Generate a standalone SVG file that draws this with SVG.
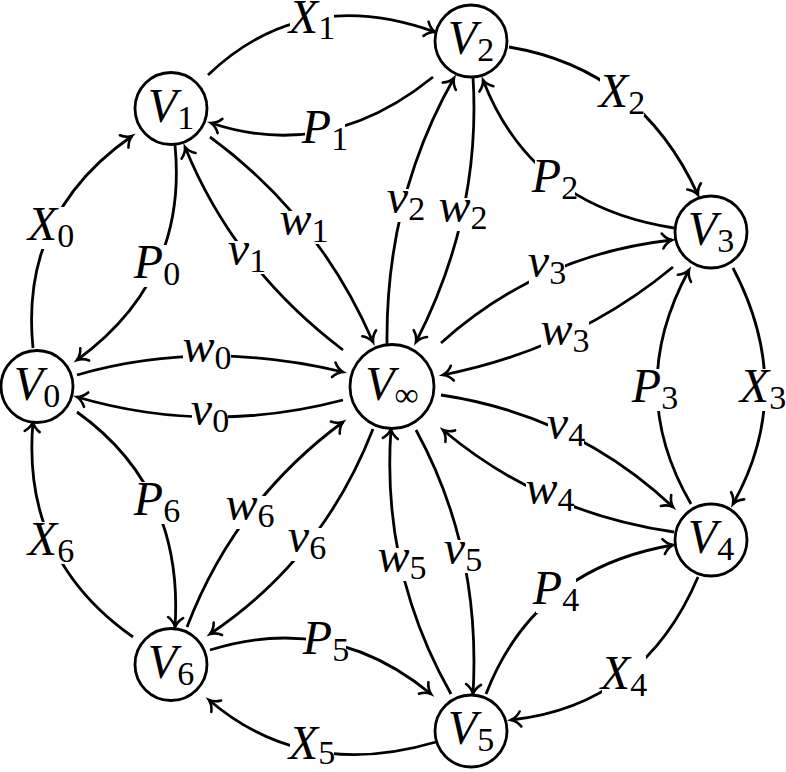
<svg xmlns="http://www.w3.org/2000/svg" width="786" height="772" viewBox="0 0 786 772">
<style>
.edge{fill:none;stroke:#000;stroke-width:2.8;marker-end:url(#to)}
.nd circle{fill:#fff;stroke:#000;stroke-width:2.8}
.lbl{font-family:"Liberation Serif","Times New Roman",serif;font-style:italic;font-size:48px;text-anchor:middle;fill:#000}
.sub{font-style:normal;font-size:34px}
.bg{fill:#fff}
</style>
<defs>
<marker id="to" markerUnits="userSpaceOnUse" orient="auto" refX="0" refY="0" markerWidth="30" markerHeight="30" viewBox="-15 -15 30 30" overflow="visible">
<path d="M-9.5,-7.5 C-6.5,-3 -2.5,-0.8 0,0 C-2.5,0.8 -6.5,3 -9.5,7.5" fill="none" stroke="#000" stroke-width="2.6" stroke-linecap="round"/>
</marker>
</defs>
<rect width="786" height="772" fill="#fff"/>
<g id="connectors">
<path class="edge" d="M33,348 Q19.5,214 132,136"/>
<path class="edge" d="M208,75 Q302.5,-15.5 435,32"/>
<path class="edge" d="M509,47 Q640.5,69 698,195"/>
<path class="edge" d="M733,268 Q797,390 733,504"/>
<path class="edge" d="M698,577 Q643.5,705.5 511,720"/>
<path class="edge" d="M436,742 Q303.5,781 209,700"/>
<path class="edge" d="M133,637 Q21,558.5 33,422"/>
<path class="edge" d="M175,145 Q188,279.5 77,360"/>
<path class="edge" d="M433,77 Q328,162 211,123"/>
<path class="edge" d="M674,228 Q531.5,206 483,80"/>
<path class="edge" d="M691,504 Q624,389 689,270"/>
<path class="edge" d="M486,694 Q534.5,568.5 673,545"/>
<path class="edge" d="M210,650 Q331.5,612 431,694"/>
<path class="edge" d="M77,412 Q184,488.5 175,627"/>
<path class="edge" d="M77,375 Q204,338.5 343,372"/>
<path class="edge" d="M343,400 Q208,435.5 77,397"/>
<path class="edge" d="M343,350 Q234,267.5 185,147"/>
<path class="edge" d="M210,137 Q318.5,216.5 373,342"/>
<path class="edge" d="M387,344 Q385.5,199 454,78"/>
<path class="edge" d="M473,77 Q481.5,214.5 416,342"/>
<path class="edge" d="M441,343 Q539.5,254.5 672,240"/>
<path class="edge" d="M673,267 Q574,349 443,375"/>
<path class="edge" d="M441,395 Q575,415 673,507"/>
<path class="edge" d="M674,532 Q541.5,513 443,430"/>
<path class="edge" d="M416,430 Q481.5,550 473,694"/>
<path class="edge" d="M451,694 Q381,570.5 391,429"/>
<path class="edge" d="M187,627 Q235,501.5 343,422"/>
<path class="edge" d="M373,429 Q322.5,558.5 210,634"/>
</g>
<g id="edge-labels">
<g><rect class="bg" x="29" y="207" width="44" height="42"/><text class="lbl" x="51" y="240">X<tspan class="sub" dy="7">0</tspan></text></g>
<g><rect class="bg" x="290" y="0" width="44" height="42"/><text class="lbl" x="312" y="33">X<tspan class="sub" dy="6">1</tspan></text></g>
<g><rect class="bg" x="600" y="74" width="44" height="42"/><text class="lbl" x="622" y="107">X<tspan class="sub" dy="7">2</tspan></text></g>
<g><rect class="bg" x="741" y="369" width="44" height="42"/><text class="lbl" x="763" y="402">X<tspan class="sub" dy="7">3</tspan></text></g>
<g><rect class="bg" x="602" y="656" width="44" height="42"/><text class="lbl" x="624" y="689">X<tspan class="sub" dy="7">4</tspan></text></g>
<g><rect class="bg" x="290" y="726" width="44" height="42"/><text class="lbl" x="312" y="759">X<tspan class="sub" dy="5">5</tspan></text></g>
<g><rect class="bg" x="29" y="522" width="44" height="42"/><text class="lbl" x="51" y="555">X<tspan class="sub" dy="7">6</tspan></text></g>
<g><rect class="bg" x="137" y="245" width="40" height="42"/><text class="lbl" x="157" y="278">P<tspan class="sub" dy="7">0</tspan></text></g>
<g><rect class="bg" x="305" y="110" width="40" height="42"/><text class="lbl" x="325" y="143">P<tspan class="sub" dy="7">1</tspan></text></g>
<g><rect class="bg" x="535" y="159" width="40" height="42"/><text class="lbl" x="555" y="192">P<tspan class="sub" dy="7">2</tspan></text></g>
<g><rect class="bg" x="635" y="369" width="40" height="42"/><text class="lbl" x="655" y="402">P<tspan class="sub" dy="7">3</tspan></text></g>
<g><rect class="bg" x="536" y="571" width="40" height="42"/><text class="lbl" x="556" y="604">P<tspan class="sub" dy="7">4</tspan></text></g>
<g><rect class="bg" x="306" y="621" width="40" height="42"/><text class="lbl" x="326" y="654">P<tspan class="sub" dy="7">5</tspan></text></g>
<g><rect class="bg" x="137" y="482" width="40" height="42"/><text class="lbl" x="157" y="515">P<tspan class="sub" dy="7">6</tspan></text></g>
<g><rect class="bg" x="192" y="401" width="36" height="33"/><text class="lbl" x="210" y="425">v<tspan class="sub" dy="7">0</tspan></text></g>
<g><rect class="bg" x="183" y="338" width="48" height="33"/><text class="lbl" x="207" y="362">w<tspan class="sub" dy="7">0</tspan></text></g>
<g><rect class="bg" x="229" y="241" width="36" height="33"/><text class="lbl" x="247" y="265">v<tspan class="sub" dy="7">1</tspan></text></g>
<g><rect class="bg" x="280" y="211" width="48" height="33"/><text class="lbl" x="304" y="235">w<tspan class="sub" dy="7">1</tspan></text></g>
<g><rect class="bg" x="388" y="189" width="36" height="33"/><text class="lbl" x="406" y="213">v<tspan class="sub" dy="7">2</tspan></text></g>
<g><rect class="bg" x="439" y="198" width="48" height="33"/><text class="lbl" x="463" y="222">w<tspan class="sub" dy="7">2</tspan></text></g>
<g><rect class="bg" x="529" y="253" width="36" height="33"/><text class="lbl" x="547" y="277">v<tspan class="sub" dy="7">3</tspan></text></g>
<g><rect class="bg" x="541" y="321" width="48" height="33"/><text class="lbl" x="565" y="345">w<tspan class="sub" dy="7">3</tspan></text></g>
<g><rect class="bg" x="548" y="415" width="36" height="33"/><text class="lbl" x="566" y="439">v<tspan class="sub" dy="7">4</tspan></text></g>
<g><rect class="bg" x="526" y="480" width="48" height="33"/><text class="lbl" x="550" y="504">w<tspan class="sub" dy="7">4</tspan></text></g>
<g><rect class="bg" x="445" y="540" width="36" height="33"/><text class="lbl" x="463" y="564">v<tspan class="sub" dy="7">5</tspan></text></g>
<g><rect class="bg" x="378" y="548" width="48" height="33"/><text class="lbl" x="402" y="572">w<tspan class="sub" dy="7">5</tspan></text></g>
<g><rect class="bg" x="289" y="528" width="36" height="33"/><text class="lbl" x="307" y="552">v<tspan class="sub" dy="7">6</tspan></text></g>
<g><rect class="bg" x="226" y="496" width="48" height="33"/><text class="lbl" x="250" y="520">w<tspan class="sub" dy="7">6</tspan></text></g>
</g>
<g id="V0" class="nd"><circle cx="37" cy="386.5" r="36"/><text class="lbl" x="37" y="399.5">V<tspan class="sub" dy="7">0</tspan></text></g>
<g id="V1" class="nd"><circle cx="171" cy="108.5" r="36"/><text class="lbl" x="171" y="121.5">V<tspan class="sub" dy="7">1</tspan></text></g>
<g id="V2" class="nd"><circle cx="471" cy="41" r="36"/><text class="lbl" x="471" y="54">V<tspan class="sub" dy="7">2</tspan></text></g>
<g id="V3" class="nd"><circle cx="711" cy="232" r="36"/><text class="lbl" x="711" y="245">V<tspan class="sub" dy="7">3</tspan></text></g>
<g id="V4" class="nd"><circle cx="711" cy="540" r="36"/><text class="lbl" x="711" y="553">V<tspan class="sub" dy="7">4</tspan></text></g>
<g id="V5" class="nd"><circle cx="471" cy="731" r="36"/><text class="lbl" x="471" y="744">V<tspan class="sub" dy="7">5</tspan></text></g>
<g id="V6" class="nd"><circle cx="171" cy="664.5" r="36"/><text class="lbl" x="171" y="677.5">V<tspan class="sub" dy="7">6</tspan></text></g>
<g id="Vinf" class="nd"><circle cx="392" cy="386.5" r="42"/><text class="lbl" x="392" y="399.5">V<tspan class="sub" dy="6">∞</tspan></text></g>
</svg>
